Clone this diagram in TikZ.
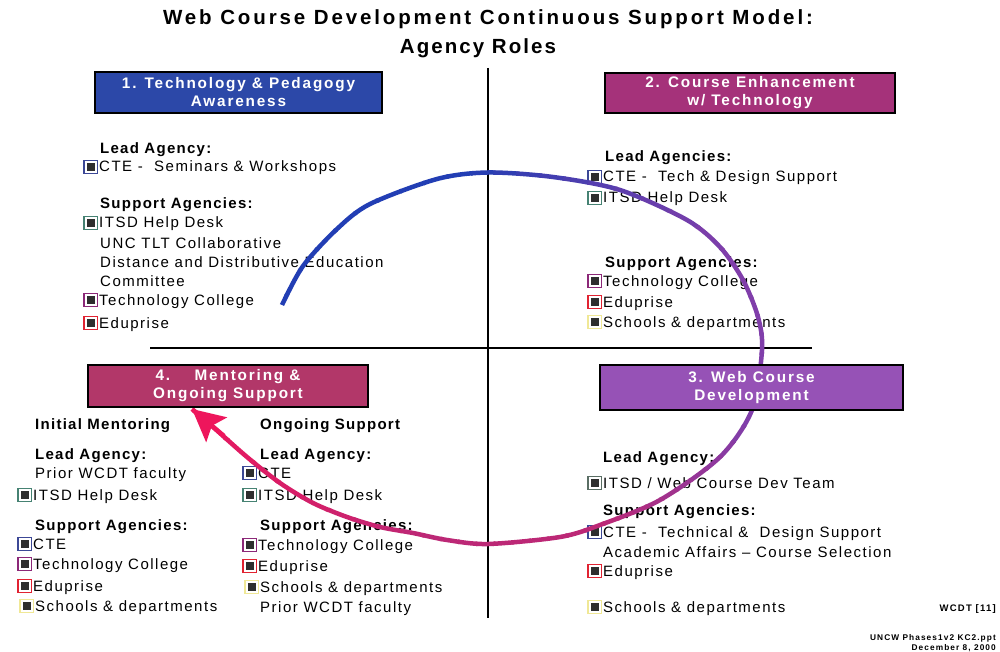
\documentclass[tikz,border=0pt]{standalone}
\usepackage{fontspec}
\setmainfont{Liberation Sans}
\usetikzlibrary{arrows.meta}
\newfontfamily\bodyfam[LetterSpace=10]{Liberation Sans}
\newfontfamily\headfam[LetterSpace=8.5]{Liberation Sans}
\newfontfamily\boxfam[LetterSpace=12]{Liberation Sans}
\newfontfamily\titlefam[LetterSpace=14]{Liberation Sans}
\newfontfamily\titlefamB[LetterSpace=10]{Liberation Sans}
\newfontfamily\footfam[LetterSpace=13]{Liberation Sans}
\newcommand\bodyfont{\bodyfam\fontsize{15pt}{18pt}\selectfont}
\newcommand\headfont{\headfam\bfseries\fontsize{15pt}{18pt}\selectfont}
\newcommand\boxfont{\boxfam\bfseries\fontsize{15.3pt}{18pt}\selectfont}
\newcommand\titlefont{\titlefam\bfseries\fontsize{20.5pt}{29pt}\selectfont}
\newcommand\titlefontB{\titlefamB\bfseries\fontsize{20.5pt}{29pt}\selectfont}
\definecolor{boxA}{RGB}{44,72,168}
\definecolor{boxB}{RGB}{165,50,122}
\definecolor{boxC}{RGB}{150,82,182}
\definecolor{boxD}{RGB}{178,55,105}
\definecolor{cblue}{RGB}{34,62,180}
\definecolor{cpurple}{RGB}{128,62,170}
\definecolor{cmag}{RGB}{188,40,118}
\definecolor{cpink}{RGB}{238,22,92}
\definecolor{bCTE}{RGB}{60,72,150}
\definecolor{bITSD}{RGB}{70,130,115}
\definecolor{bTC}{RGB}{140,40,120}
\definecolor{bEdu}{RGB}{225,35,50}
\definecolor{bSch}{RGB}{240,232,150}
\definecolor{bWeb}{RGB}{90,110,100}
\tikzset{
  txt/.style={anchor=base west, inner sep=0pt, font=\bodyfont, text height=11pt, text depth=3pt},
  hd/.style={txt, font=\headfont},
  qbox/.style={draw=black, line width=2.8pt, text=white, font=\boxfont, align=center, inner sep=0pt},
  ttl/.style={anchor=base, inner sep=0pt, font=\titlefont},
  foot/.style={anchor=base east, inner sep=0pt, font=\footfam\bfseries\fontsize{9.5pt}{11pt}\selectfont},
  foottwo/.style={anchor=base east, inner sep=0pt, font=\footfam\bfseries\fontsize{8.3pt}{10pt}\selectfont},
  bul/.style={draw=#1, line width=1.1pt, minimum width=13.5pt, minimum height=12.5pt, inner sep=0pt, anchor=east,
    path picture={\fill[black!82] ([xshift=-4.2pt,yshift=-3.6pt]path picture bounding box.center) rectangle ([xshift=4.2pt,yshift=3.6pt]path picture bounding box.center);}},
  arcline/.style={line width=4.5pt},
  divider/.style={draw=black, line width=1.2pt}
}
\newcommand\cyclecurve[1]{\draw[arcline,#1] plot[smooth] coordinates {(start) (303,266) (337,229) (370,204) (437,179) (488,172.5) (553,177) (620,190) (687,220) (720,247) (743,280) (758,317) (762,350) (752,410) (720,457) (660,500) (600,525) (560,537) (488,544) (447,540) (413,533) (380,527) (347,517) (313,503) (280,483) (247,457) (213,427) (tip)};}
\newcommand\bl[2]{\node[bul=#2] (#1b) at ([xshift=-1pt,yshift=1pt]#1.west) {};}
\begin{document}
\begin{tikzpicture}[x=1pt,y=-1pt]
\useasboundingbox[fill=white] (0,0) rectangle (1000,652);
% dividers
\coordinate (vtop) at (488,68);
\coordinate (vbot) at (488,618);
\coordinate (hl) at (150,348);
\coordinate (hr) at (812,348);
\draw[divider] (vtop) -- (vbot);
\draw[divider] (hl) -- (hr);
% title
\node[ttl] (title1) at (488,25) {Web Course Development Continuous Support Model:};
\node[ttl, font=\titlefontB] (title2) at (478,54) {Agency Roles};
% Quadrant 1
\node[hd] (qalead) at (100,154) {Lead Agency:};
\node[txt] (qacte) at (99,172) {CTE -\ \ Seminars \& Workshops}; \bl{qacte}{bCTE}
\node[hd] (qasup) at (100,209) {Support Agencies:};
\node[txt] (qaitsd) at (99,228) {ITSD Help Desk}; \bl{qaitsd}{bITSD}
\node[txt] (qaunc) at (100,248) {UNC TLT Collaborative};
\node[txt] (qadist) at (100,267) {Distance and Distributive Education};
\node[txt] (qacom) at (100,286) {Committee};
\node[txt] (qatc) at (99,305) {Technology College}; \bl{qatc}{bTC}
\node[txt] (qaedu) at (99,328) {Eduprise}; \bl{qaedu}{bEdu}
% Quadrant 2
\node[hd] (qblead) at (605,162) {Lead Agencies:};
\node[txt] (qbcte) at (603,182) {CTE -\ \ Tech \& Design Support}; \bl{qbcte}{bCTE}
\node[txt] (qbitsd) at (603,203) {ITSD Help Desk}; \bl{qbitsd}{bITSD}
\node[hd] (qbsup) at (605,267) {Support Agencies:};
\node[txt] (qbtc) at (603,286) {Technology College}; \bl{qbtc}{bTC}
\node[txt] (qbedu) at (603,307) {Eduprise}; \bl{qbedu}{bEdu}
\node[txt] (qbsch) at (603,327) {Schools \& departments}; \bl{qbsch}{bSch}
% Quadrant 3
\node[hd] (qclead) at (603,462) {Lead Agency:};
\node[txt] (qcweb) at (603,488) {ITSD / Web Course Dev Team}; \bl{qcweb}{bWeb}
\node[hd] (qcsup) at (603,515) {Support Agencies:};
\node[txt] (qccte) at (603,537) {CTE -\ \ Technical \&\ \ Design Support}; \bl{qccte}{bCTE}
\node[txt] (qcaa) at (603,557) {Academic Affairs \textendash\ Course Selection};
\node[txt] (qcedu) at (603,576) {Eduprise}; \bl{qcedu}{bEdu}
\node[txt] (qcsch) at (603,612) {Schools \& departments}; \bl{qcsch}{bSch}
\node[foot] (wcdt) at (996,611) {WCDT [11]};
\node[foottwo] (srcfile) at (996,640) {UNCW Phases1v2 KC2.ppt};
\node[foottwo] (srcdate) at (996,650) {December 8, 2000};
% Quadrant 4 left
\node[hd] (qdinit) at (35,429) {Initial Mentoring};
\node[hd] (qdlead) at (35,459) {Lead Agency:};
\node[txt] (qdprior) at (35,478) {Prior WCDT faculty};
\node[txt] (qditsd) at (33,500) {ITSD Help Desk}; \bl{qditsd}{bITSD}
\node[hd] (qdsup) at (35,530) {Support Agencies:};
\node[txt] (qdcte) at (33,549) {CTE}; \bl{qdcte}{bCTE}
\node[txt] (qdtc) at (33,569) {Technology College}; \bl{qdtc}{bTC}
\node[txt] (qdedu) at (33,591) {Eduprise}; \bl{qdedu}{bEdu}
\node[txt] (qdsch) at (35,611) {Schools \& departments}; \bl{qdsch}{bSch}
% Quadrant 4 right
\node[hd] (qeong) at (260,429) {Ongoing Support};
\node[hd] (qelead) at (260,459) {Lead Agency:};
\node[txt] (qecte) at (258,478) {CTE}; \bl{qecte}{bCTE}
\node[txt] (qeitsd) at (258,500) {ITSD Help Desk}; \bl{qeitsd}{bITSD}
\node[hd] (qesup) at (260,530) {Support Agencies:};
\node[txt] (qetc) at (258,550) {Technology College}; \bl{qetc}{bTC}
\node[txt] (qeedu) at (258,571) {Eduprise}; \bl{qeedu}{bEdu}
\node[txt] (qesch) at (260,592) {Schools \& departments}; \bl{qesch}{bSch}
\node[txt] (qeprior) at (260,612) {Prior WCDT faculty};
% cycle arrow
\coordinate (ctr) at (488,358);
\coordinate (start) at (282,305);
\coordinate (tip) at (192,409);
\coordinate (arrbase) at (224,436);
\foreach \a/\b/\ca/\cb in {-170/-95/cblue/cblue, -95/-25/cblue/cpurple, -25/15/cpurple/cpurple, 15/55/cpurple/cmag, 55/110/cmag/cmag, 110/176/cmag/cpink}{
  \foreach \k in {0,...,9}{
    \pgfmathsetmacro\u{\a+(\b-\a)*\k/10-0.3}
    \pgfmathsetmacro\v{\a+(\b-\a)*(\k+1)/10+0.3}
    \pgfmathtruncatemacro\p{(\k+0.5)*10}
    \begin{scope}
      \clip (ctr) -- +(\u:900) -- +(\v:900) -- cycle;
      \cyclecurve{draw=\cb!\p!\ca}
    \end{scope}
  }
}
\draw[draw=cpink, line width=4.5pt, -{Stealth[length=32pt,width=32pt,inset=6pt]}] (arrbase) -- (tip);
% boxes (over the curve)
\node[qbox, fill=boxA, minimum width=287pt, minimum height=41pt] (box1) at (238.5,92.5) {1. Technology \& Pedagogy\\Awareness};
\node[qbox, fill=boxB, minimum width=290pt, minimum height=40pt] (box2) at (750,93) {2. Course Enhancement\\w/ Technology};
\node[qbox, fill=boxC, minimum width=303pt, minimum height=45pt] (box3) at (751.5,387.5) {3. Web Course\\Development};
\node[qbox, fill=boxD, minimum width=280pt, minimum height=42pt] (box4) at (228,386) {4.\hspace{1.6em}Mentoring \&\\Ongoing Support};
\end{tikzpicture}
\end{document}
